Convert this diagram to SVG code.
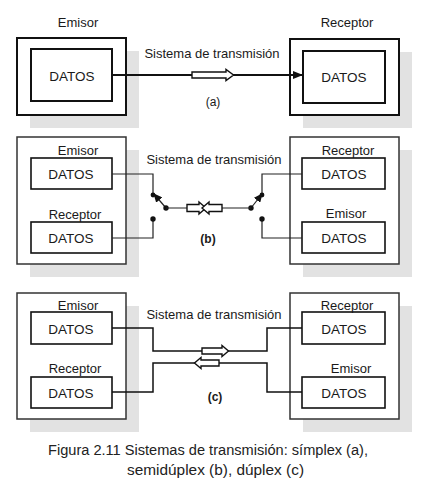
<svg xmlns="http://www.w3.org/2000/svg" width="421" height="491" viewBox="0 0 421 491">
<style>
text{font-family:"Liberation Sans",Arial,sans-serif;fill:#1a1a1a}
.lbl{font-size:13px;text-anchor:middle}
.dat{font-size:13.5px;text-anchor:middle}
.sys{font-size:13px;text-anchor:middle}
.tag{font-size:12px;text-anchor:middle;font-weight:bold}
.shadow{fill:#e2e2e2;stroke:none}
.outerA{fill:#fff;stroke:#111;stroke-width:2}
.outer{fill:#fff;stroke:#333;stroke-width:1.5}
.inner{fill:#fff;stroke:#111;stroke-width:2}
.inner2{fill:#fff;stroke:#111;stroke-width:1.6}
.tube{fill:#fff;stroke:#111;stroke-width:1.4;stroke-linejoin:miter}
.wire{fill:none;stroke:#222;stroke-width:1.2}
.wireC{fill:none;stroke:#111;stroke-width:1.5}
.dot{fill:#111}
.cap{font-family:"Liberation Sans",sans-serif;font-size:14px;fill:#222}
</style>
<defs>
<marker id="ah" markerWidth="10" markerHeight="8" refX="10" refY="4" orient="auto" markerUnits="userSpaceOnUse">
<path d="M0,0 L10,4 L0,8 Z" fill="#111"/>
</marker>
<marker id="sw" markerWidth="9" markerHeight="8" refX="8" refY="4" orient="auto" markerUnits="userSpaceOnUse">
<path d="M0,0 L9,4 L0,8 Z" fill="#111"/>
</marker>
</defs>

<!-- (a) -->
<g id="a-emisor">
<rect class="shadow" x="30" y="51" width="109" height="77"/>
<rect class="outerA" x="17" y="38" width="109" height="77"/>
<rect class="inner" x="31" y="49" width="81" height="52"/>
<text class="lbl" x="78" y="27">Emisor</text>
<text class="dat" x="72" y="81">DATOS</text>
</g>
<g id="a-receptor">
<rect class="shadow" x="303" y="52" width="109" height="76"/>
<rect class="outerA" x="290" y="39" width="109" height="76"/>
<rect class="inner" x="303" y="51" width="82" height="52"/>
<text class="lbl" x="347" y="27">Receptor</text>
<text class="dat" x="344" y="82">DATOS</text>
</g>

<!-- (b) -->
<g id="b-left">
<rect class="shadow" x="30" y="150" width="109" height="127"/>
<rect class="outer" x="17" y="137" width="109" height="127"/>
<rect class="inner2" x="31" y="158" width="81" height="31"/>
<rect class="inner2" x="31" y="222" width="81" height="31"/>
<text class="lbl" x="78" y="155">Emisor</text>
<text class="lbl" x="75" y="219">Receptor</text>
<text class="dat" x="71" y="179">DATOS</text>
<text class="dat" x="71" y="243">DATOS</text>
</g>
<g id="b-right">
<rect class="shadow" x="303" y="150" width="109" height="127"/>
<rect class="outer" x="290" y="137" width="109" height="127"/>
<rect class="inner2" x="302" y="158" width="83" height="31"/>
<rect class="inner2" x="302" y="222" width="83" height="31"/>
<text class="lbl" x="348" y="155">Receptor</text>
<text class="lbl" x="346" y="218">Emisor</text>
<text class="dat" x="344" y="179">DATOS</text>
<text class="dat" x="344" y="243">DATOS</text>
</g>

<!-- (c) -->
<g id="c-left">
<rect class="shadow" x="30" y="306" width="109" height="126"/>
<rect class="outer" x="17" y="293" width="109" height="126"/>
<rect class="inner2" x="31" y="312" width="81" height="32"/>
<rect class="inner2" x="31" y="377" width="81" height="31"/>
<text class="lbl" x="78" y="310">Emisor</text>
<text class="lbl" x="75" y="373">Receptor</text>
<text class="dat" x="71" y="334">DATOS</text>
<text class="dat" x="71" y="398">DATOS</text>
</g>
<g id="c-right">
<rect class="shadow" x="303" y="306" width="109" height="126"/>
<rect class="outer" x="290" y="293" width="109" height="126"/>
<rect class="inner2" x="302" y="312" width="83" height="32"/>
<rect class="inner2" x="302" y="377" width="83" height="31"/>
<text class="lbl" x="347" y="310">Receptor</text>
<text class="lbl" x="351" y="373">Emisor</text>
<text class="dat" x="344" y="334">DATOS</text>
<text class="dat" x="344" y="398">DATOS</text>
</g>

<g id="connectors">
<!-- (a) -->
<line x1="112" y1="75" x2="303" y2="75" stroke="#111" stroke-width="2" marker-end="url(#ah)"/>
<path class="tube" d="M192,72 H226 V69.5 L233.5,75 L226,80.5 V78 H192 Z"/>
<!-- (b) -->
<path class="wire" d="M112,174 H153 V193"/>
<path class="wire" d="M112,238 H153 V219"/>
<path class="wire" d="M302,174 H262 V193"/>
<path class="wire" d="M302,238 H262 V219"/>
<line class="wire" x1="166" y1="208" x2="154" y2="194" marker-end="url(#sw)" stroke-width="1.8"/>
<line class="wire" x1="251" y1="208" x2="262" y2="194" marker-end="url(#sw)" stroke-width="1.8"/>
<circle class="dot" cx="153" cy="195" r="2.4"/>
<circle class="dot" cx="166" cy="208" r="2.7"/>
<circle class="dot" cx="153" cy="219" r="2.7"/>
<circle class="dot" cx="262" cy="195" r="2.4"/>
<circle class="dot" cx="251" cy="208" r="2.7"/>
<circle class="dot" cx="262" cy="219" r="2.7"/>
<line class="wire" x1="166" y1="208" x2="251" y2="208"/>
<path class="tube" d="M187,204.5 H199 V202 L206,208 L199,214 V211.5 H187 Z"/>
<path class="tube" d="M222,204.5 H209 V202 L202,208 L209,214 V211.5 H222 Z"/>
<!-- (c) -->
<path class="wireC" d="M112,328 H153 V351 H267 V328 H302"/>
<path class="wireC" d="M112,392 H153 V363 H267 V392 H302"/>
<path class="tube" d="M202,348 H222 V345.5 L228.5,351 L222,356.5 V354 H202 Z"/>
<path class="tube" d="M219,360 H201 V357.5 L194.5,363 L201,368.5 V366 H219 Z"/>
</g>

<g id="labels">
<text class="sys" x="212" y="58">Sistema de transmisión</text>
<text class="tag" x="213" y="106" style="font-weight:normal">(a)</text>
<text class="sys" x="214" y="164">Sistema de transmisión</text>
<text class="tag" x="208" y="243">(b)</text>
<text class="sys" x="214" y="319">Sistema de transmisión</text>
<text class="tag" x="215" y="401">(c)</text>
</g>

<g id="caption">
<text class="cap" x="48" y="455" textLength="320" lengthAdjust="spacingAndGlyphs">Figura 2.11 Sistemas de transmisión: símplex (a),</text>
<text class="cap" x="127" y="475" textLength="177" lengthAdjust="spacingAndGlyphs">semidúplex (b), dúplex (c)</text>
</g>
</svg>
